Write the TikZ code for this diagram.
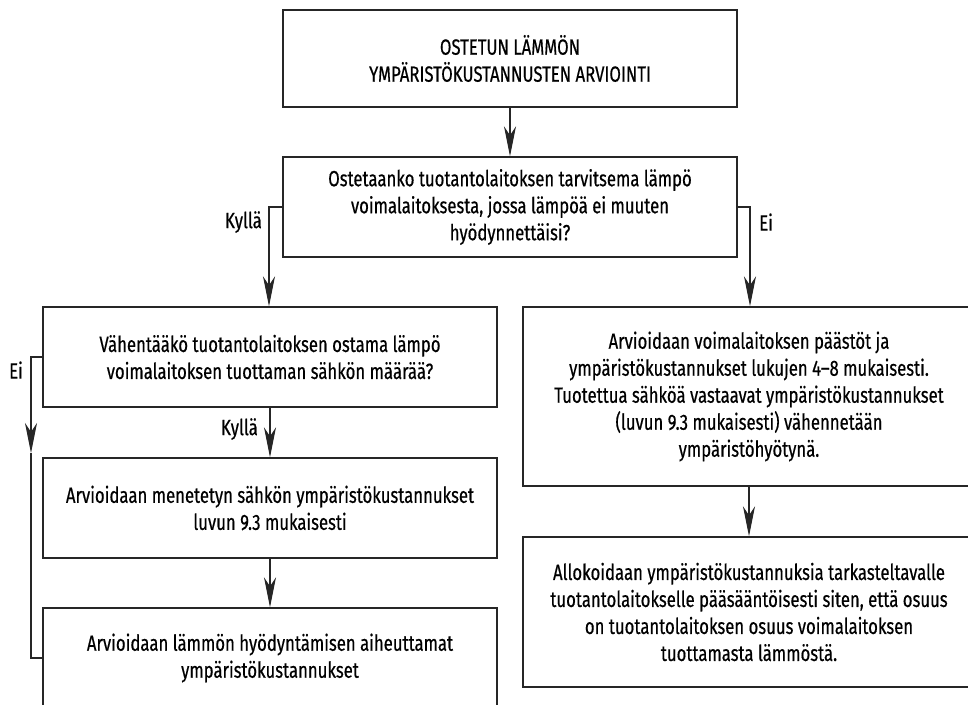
\documentclass[tikz,border=0pt]{standalone}
\usepackage{fontspec}
\setmainfont{Fira Sans}[FakeStretch=0.76,FakeBold=0.5]
\usetikzlibrary{arrows.meta}
\tikzset{
  box/.style={draw=black!85, line width=1.4pt, align=center, inner sep=0pt,
    font=\fontsize{22}{27}\selectfont, text=black},
  arr/.style={draw=black!85, line width=1.2pt, -{Stealth[length=30pt,width=12pt,inset=9pt]}},
  conn/.style={draw=black!85, line width=1.2pt},
  lbl/.style={font=\fontsize{22}{24}\selectfont, inner sep=0pt, text=black}
}
\begin{document}
\begin{tikzpicture}[x=1pt,y=-1pt]
\useasboundingbox (0,0) rectangle (968,704);
\clip (0,0) rectangle (968,704);
\node[box, minimum width=454pt, minimum height=97pt] (b1) at (510,58.5)
  {OSTETUN LÄMMÖN\\YMPÄRISTÖKUSTANNUSTEN ARVIOINTI};
\node[box, minimum width=454pt, minimum height=100pt] (b2) at (510,207)
  {Ostetaanko tuotantolaitoksen tarvitsema lämpö\\voimalaitoksesta, jossa lämpöä ei muuten\\hyödynnettäisi?};
\node[box, minimum width=454pt, minimum height=100pt] (b3) at (270,357)
  {Vähentääkö tuotantolaitoksen ostama lämpö\\voimalaitoksen tuottaman sähkön määrää?};
\node[box, minimum width=454pt, minimum height=100pt] (b5) at (270,508)
  {Arvioidaan menetetyn sähkön ympäristökustannukset\\luvun 9.3 mukaisesti};
\node[box, minimum width=454pt, minimum height=100pt] (b6) at (270,658)
  {Arvioidaan lämmön hyödyntämisen aiheuttamat\\ympäristökustannukset};
\node[box, minimum width=452pt, minimum height=179pt] (b4) at (749,396.5)
  {Arvioidaan voimalaitoksen päästöt ja\\ympäristökustannukset lukujen 4–8 mukaisesti.\\Tuotettua sähköä vastaavat ympäristökustannukset\\(luvun 9.3 mukaisesti) vähennetään\\ympäristöhyötynä.};
\node[box, minimum width=452pt, minimum height=150pt] (b7) at (749,612)
  {Allokoidaan ympäristökustannuksia tarkasteltavalle\\tuotantolaitokselle pääsääntöisesti siten, että osuus\\on tuotantolaitoksen osuus voimalaitoksen\\tuottamasta lämmöstä.};

\coordinate (kL) at (269,207);
\coordinate (kR) at (750,207);
\coordinate (eiA) at (31,453);

\draw[arr] (b1.south) -- (b2.north);
\draw[arr] (b2.west) -- (kL) -- (kL |- b3.north);
\draw[arr] (b2.east) -- (kR) -- (kR |- b4.north);
\draw[arr] (b3.south) -- (b5.north);
\draw[arr] (b5.south) -- (b6.north);
\draw[arr] (b4.south) -- (b7.north);
\draw[arr] (b3.west) -| (eiA);
\draw[conn] (eiA) |- (b6.west);

\node[lbl, anchor=east] (lk1) at (262,222) {Kyllä};
\node[lbl, anchor=west] (le1) at (759,222) {Ei};
\node[lbl] (le2) at (16,370) {Ei};
\node[lbl, anchor=east] (lk2) at (258,429) {Kyllä};
\end{tikzpicture}
\end{document}
